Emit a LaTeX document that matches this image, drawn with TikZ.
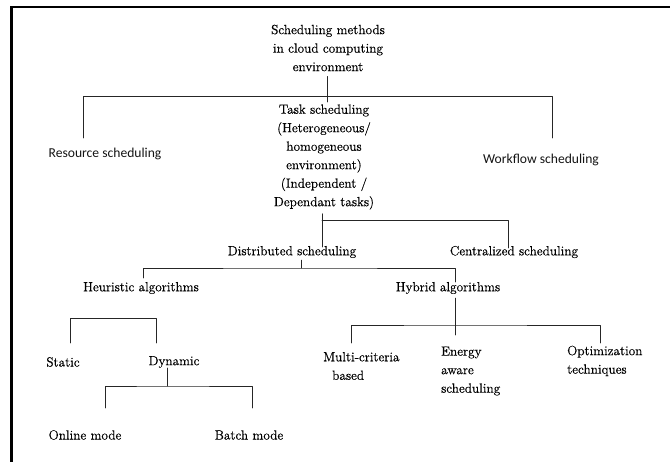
\documentclass[tikz,border=0pt]{standalone}
\usepackage{fontspec}
\newfontfamily\romanfont{Latin Modern Roman}[FakeBold=0.5]
\newfontfamily\calibrifont{Carlito}
\begin{document}
\begin{tikzpicture}[x=1pt,y=-1pt,line join=round,line cap=round,
	txt/.style={font=\romanfont\fontsize{13.3}{18.5}\selectfont,align=center,inner sep=0pt},
	stxt/.style={font=\calibrifont\fontsize{13.6}{18.5}\selectfont,text=black!92,inner sep=0pt},
	link/.style={draw=black!85,line width=0.8pt}]
		\useasboundingbox (0,0) rectangle (670,462);
		\draw[line width=2.6pt,line cap=butt,line join=miter] (11.5,462)--(11.5,7)--(670,7);
		% nodes
		\node[txt] (root) at (328,48) {Scheduling methods\\in cloud computing\\environment};
		\node[stxt] (res) at (105,154) {Resource scheduling};
		\node[txt] (task) at (324,157) {Task scheduling\\(Heterogeneous/\\homogeneous\\environment)\\(Independent /\\Dependant tasks)};
		\node[stxt] (work) at (541,160) {Workflow scheduling};
		\node[txt] (dist) at (292,252) {Distributed scheduling};
		\node[txt] (cent) at (514,252) {Centralized scheduling};
		\node[txt] (heur) at (141,288) {Heuristic algorithms};
		\node[txt] (hyb) at (448,288) {Hybrid algorithms};
		\node[txt] (static) at (63,362) {Static};
		\node[txt] (dyn) at (174,362) {Dynamic};
		\node[txt] (online) at (85,435) {Online mode};
		\node[txt] (batch) at (249,435) {Batch mode};
		\node[txt,align=left,anchor=west] (multi) at (323,366) {Multi-criteria\\\hspace*{9pt}based};
		\node[txt,align=left,anchor=west] (energy) at (441,371) {Energy\\aware\\scheduling};
		\node[txt,align=left,anchor=west] (optim) at (567,361) {Optimization\\techniques};
		% junctions
		\coordinate (root-d) at (327,102);
		\coordinate (bar-l) at (83,96);
		\coordinate (bar-r) at (552,96);
		\coordinate (res-d) at (83,138);
		\coordinate (work-d) at (552,138);
		\coordinate (task-d) at (322,247);
		\coordinate (task-j) at (322,220);
		\coordinate (cent-d) at (508,248);
		\coordinate (dist-j) at (301,268);
		\coordinate (heur-d) at (143,278);
		\coordinate (hyb-d) at (455,282);
		\coordinate (hyb-j) at (455,325);
		\coordinate (hyb-s) at (455,335);
		\coordinate (multi-d) at (351,343);
		\coordinate (optim-d) at (600,343);
		\coordinate (heur-l) at (70,318);
		\coordinate (static-d) at (70,343);
		\coordinate (dyn-d) at (156,343);
		\coordinate (dyn-j) at (167,386);
		\coordinate (online-d) at (105,408);
		\coordinate (batch-d) at (252,408);
		% connectors
		\draw[link,shorten <=5pt] (root.south -| root-d)--(root-d);
		\draw[link] (res-d)--(bar-l)--(bar-r)--(work-d);
		\draw[link,shorten <=4pt] (task.south -| task-d)--(task-d);
		\draw[link] (task-j)-|(cent-d);
		\draw[link,shorten <=2pt] (dist.south -| dist-j)--(dist-j);
		\draw[link] (heur-d)|-(dist-j)-|(hyb-d);
		\draw[link,shorten <=4pt] (hyb.south -| hyb-s)--(hyb-s);
		\draw[link] (multi-d)|-(hyb-j)-|(optim-d);
		\draw[link] (static-d)--(heur-l)-|(dyn-d);
		\draw[link] (dyn.south -| dyn-j)--(dyn-j);
		\draw[link] (online-d)|-(dyn-j)-|(batch-d);
\end{tikzpicture}
\end{document}
